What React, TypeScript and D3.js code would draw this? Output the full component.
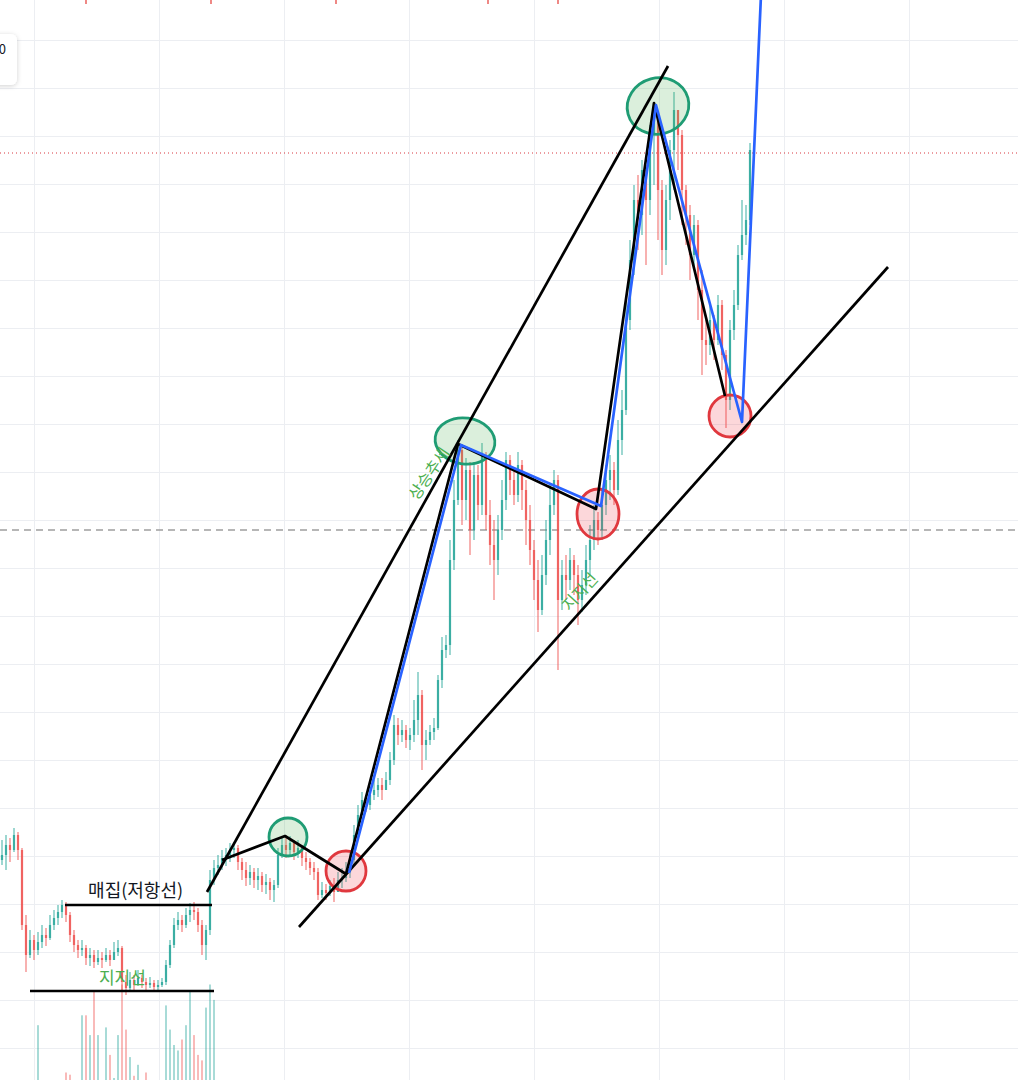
import React from 'react';
import * as d3 from 'd3';

const W = 1018;
const H = 1080;

// ---- price series (arbitrary price units), open of each candle = previous close ----
const firstOpen = 24;
const closes = [
  24.5, 25.5, 25, 26.5, 25, 17.5, 14.5, 16, 15, 15.8,
  16.5, 16.2, 17.5, 18.2, 18.8, 19.5, 18.5, 16.5, 15.5, 15,
  15.2, 14.2, 14.5, 13.8, 14.2, 14, 14.5, 14, 14.8, 15.2,
  11.8, 11.2, 12, 11.5, 12.2, 11.8, 11.5, 11.7, 11.3, 11.5,
  11.8, 13.5, 15.5, 17.5, 18, 17.5, 18.5, 19, 18.8, 17.5,
  15.5, 17, 22, 23.2, 23.5, 24.2, 24.5, 25, 25.2, 23.8,
  23, 22.2, 22.8, 22, 22.4, 21.5, 21.8, 21, 21.5, 24.5,
  25.5, 25, 25.7, 24.8, 25.2, 24.2, 23.8, 23.2, 22.8, 20.5,
  21, 20.7, 21.4, 20.8, 22, 22.2, 22.8, 24, 26.5, 28.5,
  30, 29.5, 30.5, 31, 31.5, 31, 32, 34, 37.5, 36.5,
  37, 36, 36.5, 38, 40.5, 35.5, 36, 36.8, 37.2, 42,
  45, 45.5, 54, 60, 65, 60, 63, 57, 62.5, 59.5,
  64.5, 58.5, 55.5, 54, 57, 60, 64, 62, 60.5, 63.5,
  61, 58, 55, 52, 49, 52.5, 56, 59.5, 62, 50,
  52.5, 52, 54, 52.5, 50, 51.5, 54, 56, 58, 57,
  59.5, 62, 63, 61, 66, 69, 78, 84, 90, 88.5,
  93, 90, 96.5, 98.5, 91, 85, 90, 95, 99, 96.5,
  91, 88.5, 84.5, 87.5, 81, 76, 75.5, 78, 76, 79.5,
  74.5, 70, 77, 79.5, 84.5, 86.5, 88, 95,
];
const highs = [
  26, 26.5, 26.2, 27.2, 26.8, 25.2, 18.5, 17, 16.5, 16.8,
  17.5, 17.2, 18.5, 19, 19.5, 20, 19.8, 18.8, 17, 16,
  16, 15.5, 15.2, 15, 15, 14.8, 15.2, 15, 15.8, 16,
  15.4, 12.5, 12.8, 12.5, 13, 12.5, 12.2, 12.3, 12, 12,
  12.2, 14, 16, 18.2, 18.8, 18.5, 19.2, 19.7, 19.8, 19.2,
  18, 17.5, 23, 24, 24.5, 25, 25.2, 25.7, 25.8, 25.5,
  24.2, 23.8, 23.5, 23.2, 23.2, 22.8, 22.6, 22.2, 22, 25.2,
  26.4, 26.2, 26.4, 26, 26, 25.5, 24.8, 24.2, 23.8, 23.2,
  21.8, 21.6, 22, 22.2, 22.8, 23.2, 23.8, 25, 27.5, 29.5,
  30.8, 30.5, 31.2, 32, 32.2, 32.2, 32.8, 34.8, 38.5, 38.2,
  38, 37.5, 37.2, 40, 42.8, 41, 37, 37.5, 38.2, 42.5,
  46.3, 46.5, 56, 62, 66, 65.5, 64.2, 63.8, 63.8, 63.5,
  65.7, 64.8, 60, 58, 58.5, 62, 64.8, 64.5, 63, 64.8,
  64, 62, 59.5, 56, 54, 54.5, 58, 61.5, 63, 62.5,
  54, 54.5, 55.2, 54.5, 53.5, 53, 55.5, 57.5, 59.5, 58.8,
  61, 63.5, 64.5, 63.8, 68, 71, 80, 86, 91.5, 92.5,
  94, 93.5, 97.5, 99.7, 98, 92, 91.5, 96, 100.8, 98.5,
  97, 91.5, 89.5, 88.5, 88, 83, 78, 79.5, 78.5, 80.5,
  80, 75, 78, 81, 85.5, 90, 89.5, 95.7,
];
const lows = [
  23.5, 23, 23.8, 24.8, 24, 17, 12.8, 14.2, 14, 14.5,
  15.2, 15.4, 16, 17, 17.5, 18.2, 17.8, 15.8, 14.8, 14.2,
  14.4, 13.5, 13.4, 13.2, 13.5, 13.2, 13.8, 13.4, 14, 14.4,
  11, 10.5, 11, 10.8, 11.4, 11.2, 11, 11.2, 10.8, 11,
  11.3, 11.5, 13.2, 15.2, 17, 16.8, 17.2, 17.8, 18, 16.8,
  14.5, 14, 16.5, 21.5, 22.5, 23, 23.4, 23.8, 24.2, 23,
  22, 21.4, 21.5, 21.2, 21, 20.8, 20.6, 20, 19.8, 21.2,
  24.2, 24.2, 24.5, 24, 24.2, 23.4, 23, 22.5, 22, 20,
  20.2, 20, 20.4, 19.8, 20.8, 21.2, 21.8, 22.2, 23.5, 26,
  28.5, 28.8, 29, 30, 30.3, 30, 31, 31.5, 33.5, 35.5,
  35.8, 35.2, 35, 35.8, 36.5, 33, 34, 35.5, 36, 37,
  41.2, 44.2, 44.5, 53, 59.5, 57.5, 58, 54.5, 56, 58,
  58.5, 57, 53.5, 50, 52.5, 56, 59, 60.5, 59.5, 59.8,
  59, 55.5, 53.5, 50, 46.8, 48.5, 51.5, 54.5, 58.5, 43,
  49, 50, 51, 50.5, 47.5, 48.8, 50.5, 52.5, 55, 55.5,
  56, 58.5, 60, 59.5, 60.5, 64.5, 68.5, 77, 82.5, 85,
  86.5, 83.5, 88.5, 91.5, 86, 82.5, 83.5, 88, 91, 93,
  87.5, 85.5, 82, 83, 78, 72.5, 73.5, 74.5, 74, 75.5,
  73, 67.2, 69, 76, 79, 84, 85.5, 87.5,
];
// volume of the first candles (the rest of the volume pane lies below the frame)
const volumes = [
  12, 10, 8, 14, 9, 18, 15, 11, 13, 68,
  12, 10, 14, 9, 11, 16, 25, 23, 14, 12,
  77, 77, 59, 100, 59, 18, 66, 41, 20, 59,
  105, 64, 39, 22, 32, 18, 25, 15, 12, 10,
  14, 86, 64, 50, 45, 55, 68, 100, 59, 41,
  36, 84, 105, 91,
];

// axis ticks (gridlines)
const priceTicks = [106, 101.2, 96.4, 91.6, 86.8, 82, 77.2, 72.4, 67.6, 62.8, 58, 53.2, 48.4, 43.6, 38.8, 34, 29.2, 24.4, 19.6, 14.8, 10, 5.2];
const timeTicks = [8, 39.25, 70.5, 101.75, 133, 164.25, 195.5, 226.75];
const topMarks = [21, 52.25, 83.5, 121.5, 139];

// horizontal reference levels
const lastPriceLevel = 94.7;
const dashedLevel = 57;

// drawings, [candle index, price]
const resistanceLine = [[15.75, 19.5], [52.5, 19.5]];
const supportLine = [[7, 10.9], [53, 10.9]];
const upperChannel = [[51.25, 20.8], [166.5, 103.4]];
const lowerChannel = [[74.25, 17.3], [221.5, 83.3]];
const blackPath = [[55, 24], [70.75, 26.4], [86, 22.6], [114, 65.6], [148.5, 59.1], [163, 99.7], [180.75, 70.4]];
const bluePath = [[86.75, 22.7], [114.75, 65.5], [149.75, 59.4], [163.5, 99.5], [185, 67.8], [189.75, 110.5]];

const greenMarks = [
  { i: 71.5, p: 26.3, rx: 19, ry: 19, rot: 0 },
  { i: 115.75, p: 65.9, rx: 30, ry: 23, rot: 8 },
  { i: 164, p: 99.4, rx: 31, ry: 28, rot: -15 },
];
const redMarks = [
  { i: 86, p: 22.9, rx: 20, ry: 20, rot: 0 },
  { i: 149, p: 58.6, rx: 21, ry: 25, rot: 0 },
  { i: 182, p: 68.4, rx: 21, ry: 21, rot: 0 },
];

const labels = [
  { text: '매집(저항선)', i: 33.4, p: 20.3, color: '#131722', rot: 0, size: 18 },
  { text: '지지선', i: 30.1, p: 11.6, color: '#4caf50', rot: 0, size: 17 },
  { text: '상승추세', i: 106.5, p: 62.7, color: '#4caf50', rot: -56, size: 16 },
  { text: '지지선', i: 144.25, p: 50.9, color: '#4caf50', rot: -48, size: 16 },
];

const UP = '#26a69a';
const DOWN = '#ef5350';

export default function App() {
  const x = d3.scaleLinear().domain([0, 187]).range([2, 750]);
  const y = d3.scaleLinear().domain([0, 110]).range([1100, 0]);
  const vol = d3.scaleLinear().domain([0, 100]).range([1100, 990]);

  const candles = closes.map((c, i) => {
    const o = i === 0 ? firstOpen : closes[i - 1];
    const h = Math.max(highs[i], o, c);
    const l = Math.min(lows[i], o, c);
    return { i, o, c, h, l, up: c >= o };
  });

  const line = d3.line<number[]>().x((d) => x(d[0])).y((d) => y(d[1]));
  const font = '"Noto Sans CJK KR", "Noto Sans", sans-serif';

  return (
    <svg
      width={W}
      height={H}
      viewBox={`0 0 ${W} ${H}`}
      style={{ position: 'absolute', left: 0, top: 0, background: '#ffffff', fontFamily: font }}
    >
      <defs>
        <filter id="shadow" x="-50%" y="-50%" width="200%" height="200%">
          <feDropShadow dx="0" dy="1" stdDeviation="2.5" floodColor="#000" floodOpacity="0.18" />
        </filter>
      </defs>
      <rect x={0} y={0} width={W} height={H} fill="#ffffff" />
      {/* grid */}
      <g stroke="#eceef2" strokeWidth={1}>
        {priceTicks.map((p) => (
          <line key={'h' + p} x1={0} x2={W} y1={Math.round(y(p)) + 0.5} y2={Math.round(y(p)) + 0.5} />
        ))}
        {timeTicks.map((t) => (
          <line key={'v' + t} y1={0} y2={H} x1={Math.round(x(t)) + 0.5} x2={Math.round(x(t)) + 0.5} />
        ))}
      </g>
      {/* top marks */}
      <g stroke="#e53935" strokeWidth={1.2}>
        {topMarks.map((t) => (
          <line key={'tm' + t} x1={x(t)} x2={x(t)} y1={0} y2={4} />
        ))}
      </g>
      {/* reference levels */}
      <line x1={0} x2={W} y1={y(lastPriceLevel)} y2={y(lastPriceLevel)} stroke="#d9363e" strokeWidth={1} strokeDasharray="1 3" />
      <line x1={0} x2={W} y1={y(dashedLevel)} y2={y(dashedLevel)} stroke="#9e9e9e" strokeWidth={1.3} strokeDasharray="7 5" />
      {/* volume */}
      <g>
        {volumes.map((v, i) => (
          <rect
            key={'v' + i}
            x={x(i) - 1}
            width={2}
            y={vol(v)}
            height={vol(0) - vol(v)}
            fill={candles[i].up ? UP : DOWN}
            opacity={0.4}
          />
        ))}
      </g>
      {/* candles */}
      <g opacity={0.9}>
        {candles.map((d) => {
          const col = d.up ? UP : DOWN;
          const top = y(Math.max(d.o, d.c));
          const bot = y(Math.min(d.o, d.c));
          return (
            <g key={'c' + d.i}>
              <line x1={x(d.i)} x2={x(d.i)} y1={y(d.h)} y2={y(d.l)} stroke={col} strokeWidth={1} />
              <rect x={x(d.i) - 1.1} width={2.2} y={top} height={Math.max(1, bot - top)} fill={col} />
            </g>
          );
        })}
      </g>
      {/* ellipses */}
      {greenMarks.map((m, k) => (
        <ellipse
          key={'g' + k}
          cx={x(m.i)}
          cy={y(m.p)}
          rx={m.rx}
          ry={m.ry}
          transform={`rotate(${m.rot} ${x(m.i)} ${y(m.p)})`}
          fill="rgba(76,175,80,0.2)"
          stroke="#1f9c74"
          strokeWidth={2.8}
        />
      ))}
      {redMarks.map((m, k) => (
        <ellipse
          key={'r' + k}
          cx={x(m.i)}
          cy={y(m.p)}
          rx={m.rx}
          ry={m.ry}
          transform={`rotate(${m.rot} ${x(m.i)} ${y(m.p)})`}
          fill="rgba(242,54,69,0.2)"
          stroke="#e0383e"
          strokeWidth={2.8}
        />
      ))}
      {/* drawn lines */}
      <g fill="none" stroke="#000000" strokeWidth={2.7} strokeLinejoin="round">
        <path d={line(resistanceLine as number[][]) || ''} />
        <path d={line(supportLine as number[][]) || ''} />
        <path d={line(upperChannel as number[][]) || ''} />
        <path d={line(lowerChannel as number[][]) || ''} />
        <path d={line(blackPath as number[][]) || ''} />
      </g>
      <path d={line(bluePath as number[][]) || ''} fill="none" stroke="#2962ff" strokeWidth={2.7} strokeLinejoin="round" />
      {/* labels */}
      {labels.map((l, k) => (
        <text
          key={'l' + k}
          x={x(l.i)}
          y={y(l.p)}
          fill={l.color}
          fontSize={l.size}
          textAnchor="middle"
          transform={l.rot ? `rotate(${l.rot} ${x(l.i)} ${y(l.p)})` : undefined}
          dominantBaseline={l.rot ? 'central' : 'auto'}
        >
          {l.text}
        </text>
      ))}
      {/* partially visible legend card */}
      <rect x={-20} y={34} width={37} height={51} rx={6} fill="#ffffff" filter="url(#shadow)" />
      <text x={6} y={54} fontSize={13} fill="#131722" textAnchor="end">0</text>
    </svg>
  );
}
